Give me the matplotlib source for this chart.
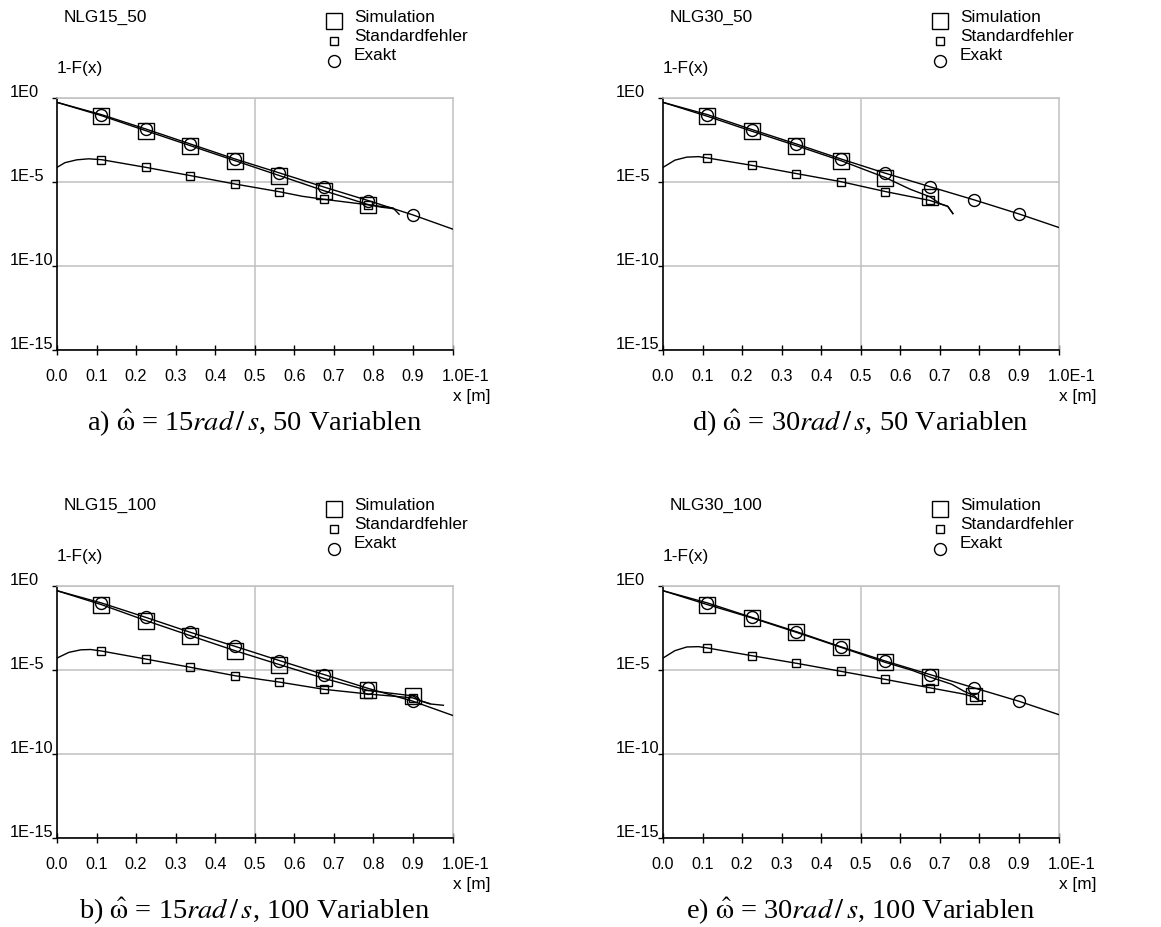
import numpy as np
import matplotlib
matplotlib.use("Agg")
import matplotlib.pyplot as plt
from matplotlib.lines import Line2D
from matplotlib.ticker import NullLocator
from matplotlib.transforms import ScaledTranslation

plt.rcParams["font.family"] = ["Liberation Sans", "DejaVu Sans"]
plt.rcParams["mathtext.fontset"] = "stix"

W, H = 1161, 928
DPI = 100

# x in units of 1E-1 m; curve values are log10(1-F(x))
MARK_X = [0.1125, 0.225, 0.3375, 0.45, 0.5625, 0.675, 0.7875, 0.9]
EXACT_X = [0.0, 0.1125, 0.225, 0.3375, 0.45, 0.5625, 0.675, 0.7875, 0.9, 1.0]

XTICKS = [0.0, 0.1, 0.2, 0.3, 0.4, 0.5, 0.6, 0.7, 0.8, 0.9, 1.0]
XTICK_LABELS = ["0.0", "0.1", "0.2", "0.3", "0.4", "0.5", "0.6", "0.7", "0.8", "0.9", "1.0E-1"]
YTICKS = [1e0, 1e-5, 1e-10, 1e-15]
YTICK_LABELS = ["1E0", "1E-5", "1E-10", "1E-15"]

LEGEND_LABELS = ["Simulation", "Standardfehler", "Exakt"]

# a) NLG15_50
A_EXACT_Y = [-0.26, -0.99, -1.85, -2.74, -3.63, -4.46, -5.30, -6.11, -6.96, -7.80]
A_SIM_X = [0.0, 0.1125, 0.225, 0.3375, 0.45, 0.5625, 0.675, 0.7875, 0.82, 0.845, 0.852, 0.865]
A_SIM_Y = [-0.26, -1.05, -1.95, -2.84, -3.73, -4.62, -5.52, -6.35, -6.50, -6.57, -6.60, -6.92]
A_STD_X = [0.0, 0.02, 0.05, 0.08, 0.1125, 0.225, 0.3375, 0.45, 0.5625, 0.62, 0.675, 0.7875, 0.83, 0.85]
A_STD_Y = [-4.13, -3.85, -3.68, -3.62, -3.67, -4.13, -4.62, -5.12, -5.58, -5.85, -6.03, -6.36, -6.48, -6.55]

# d) NLG30_50
D_EXACT_Y = [-0.26, -0.99, -1.88, -2.74, -3.63, -4.48, -5.28, -6.07, -6.90, -7.70]
D_SIM_X = [0.0, 0.1125, 0.225, 0.3375, 0.45, 0.5, 0.5625, 0.624, 0.675, 0.70, 0.72, 0.733]
D_SIM_Y = [-0.26, -1.09, -1.98, -2.84, -3.73, -4.18, -4.74, -5.42, -5.88, -6.28, -6.45, -6.88]
D_STD_X = [0.0, 0.03, 0.06, 0.09, 0.1125, 0.225, 0.3375, 0.45, 0.5625, 0.675, 0.70, 0.72, 0.733]
D_STD_Y = [-4.13, -3.70, -3.52, -3.49, -3.57, -4.01, -4.50, -4.98, -5.57, -6.10, -6.30, -6.45, -6.88]

# b) NLG15_100
B_EXACT_Y = [-0.28, -1.01, -1.87, -2.76, -3.59, -4.44, -5.27, -6.10, -6.86, -7.70]
B_SIM_X = [0.0, 0.1125, 0.225, 0.3375, 0.45, 0.5625, 0.675, 0.7875, 0.9, 0.92, 0.943, 0.977]
B_SIM_Y = [-0.28, -1.11, -2.06, -2.96, -3.85, -4.68, -5.50, -6.22, -6.54, -6.84, -7.02, -7.10]
B_STD_X = [0.0, 0.03, 0.06, 0.085, 0.1125, 0.225, 0.3375, 0.45, 0.5625, 0.675, 0.7875, 0.9, 0.92, 0.943]
B_STD_Y = [-4.29, -3.95, -3.80, -3.78, -3.87, -4.35, -4.84, -5.34, -5.72, -6.15, -6.43, -6.66, -6.84, -7.00]

# e) NLG30_100
E_EXACT_Y = [-0.28, -1.01, -1.87, -2.72, -3.62, -4.47, -5.27, -6.07, -6.86, -7.65]
E_SIM_X = [0.0, 0.1125, 0.225, 0.3375, 0.45, 0.5625, 0.63, 0.675, 0.73, 0.76, 0.7875, 0.80, 0.815]
E_SIM_Y = [-0.28, -1.11, -1.90, -2.76, -3.65, -4.55, -5.02, -5.42, -5.85, -6.25, -6.54, -6.84, -6.84]
E_STD_X = [0.0, 0.03, 0.06, 0.09, 0.1125, 0.225, 0.3375, 0.45, 0.5625, 0.675, 0.73, 0.76, 0.7875, 0.80, 0.815]
E_STD_Y = [-4.29, -3.85, -3.63, -3.61, -3.69, -4.15, -4.60, -5.08, -5.56, -6.06, -6.30, -6.43, -6.62, -6.84, -6.84]

OMEGA = r"$\hat{\mathrm{\omega}}$"
UNIT = r"$rad\,/\,s$"

PANELS = [
    # left px, top px, run name, caption, exact, sim x/y, std x/y
    (57, 99, "NLG15_50", "a) " + OMEGA + " = 15" + UNIT + ", 50 Variablen",
     A_EXACT_Y, A_SIM_X, A_SIM_Y, A_STD_X, A_STD_Y),
    (663, 99, "NLG30_50", "d) " + OMEGA + " = 30" + UNIT + ", 50 Variablen",
     D_EXACT_Y, D_SIM_X, D_SIM_Y, D_STD_X, D_STD_Y),
    (57, 587, "NLG15_100", "b) " + OMEGA + " = 15" + UNIT + ", 100 Variablen",
     B_EXACT_Y, B_SIM_X, B_SIM_Y, B_STD_X, B_STD_Y),
    (663, 587, "NLG30_100", "e) " + OMEGA + " = 30" + UNIT + ", 100 Variablen",
     E_EXACT_Y, E_SIM_X, E_SIM_Y, E_STD_X, E_STD_Y),
]

AX_W, AX_H = 395.5, 252
GRID = "#c0c0c0"
MS_SIM, MS_STD, MS_EXACT = 11.5, 5.4, 8.6

fig = plt.figure(figsize=(W / DPI, H / DPI), dpi=DPI)
fig.patch.set_facecolor("white")


def fx(px):
    return px / W


def fy(py):
    return 1 - py / H


def marker_indices(xs):
    return [i for i, v in enumerate(xs) if np.any(np.isclose(v, MARK_X))]


def draw_panel(left, top, name, caption, ex_y, sim_x, sim_y, std_x, std_y):
    ax = fig.add_axes([fx(left), fy(top + AX_H), AX_W / W, AX_H / H])
    ax.set_yscale("log")
    ax.set_xlim(0, 1)
    ax.set_ylim(1e-15, 1e0)

    series = [
        (EXACT_X, ex_y, "o", MS_EXACT),
        (sim_x, sim_y, "s", MS_SIM),
        (std_x, std_y, "s", MS_STD),
    ]
    for xs, ys, mk, ms in series:
        xs = np.asarray(xs, dtype=float)
        ys = np.power(10.0, np.asarray(ys, dtype=float))
        ax.plot(xs, ys, color="black", lw=1.0, marker=mk, ms=ms,
                mfc="none", mec="black", mew=1.0,
                markevery=marker_indices(xs), zorder=3)

    # axes frame and grid
    ax.set_axisbelow(True)
    ax.yaxis.grid(True, color=GRID, lw=1.1)
    ax.axvline(0.5, color=GRID, lw=1.1, zorder=0.5)
    for s in ("top", "right"):
        ax.spines[s].set_color(GRID)
        ax.spines[s].set_linewidth(1.1)
    for s in ("left", "bottom"):
        ax.spines[s].set_color("black")
        ax.spines[s].set_linewidth(1.2)

    ax.set_xticks(XTICKS)
    ax.set_xticklabels(XTICK_LABELS)
    ax.set_yticks(YTICKS)
    ax.set_yticklabels(YTICK_LABELS)
    ax.yaxis.set_minor_locator(NullLocator())
    ax.xaxis.set_minor_locator(NullLocator())
    ax.tick_params(axis="x", direction="inout", length=7.2, width=1.0,
                   pad=9.5, labelsize=11.6, colors="black")
    ax.tick_params(axis="y", direction="out", length=3.6, width=1.0,
                   pad=0, labelsize=11.8, colors="black")

    for lbl in ax.get_yticklabels():
        lbl.set_horizontalalignment("left")
        lbl.set_verticalalignment("baseline")
        lbl.set_transform(lbl.get_transform() +
                          ScaledTranslation(-42 / DPI, 2 / DPI, fig.dpi_scale_trans))
    last = ax.get_xticklabels()[-1]
    last.set_horizontalalignment("left")
    last.set_transform(last.get_transform() +
                       ScaledTranslation(-10.5 / DPI, 0, fig.dpi_scale_trans))

    # labels around the axes
    fig.text(fx(left + 7), fy(top - 82), name, ha="left", va="center", fontsize=12.4)
    fig.text(fx(left), fy(top - 31), "1-F(x)", ha="left", va="center", fontsize=12.4)
    fig.text(fx(left + AX_W + 38), fy(top + AX_H + 46), "x [m]",
             ha="right", va="center", fontsize=12.4)
    fig.text(fx(left + AX_W / 2), fy(top + AX_H + 72), caption,
             ha="center", va="center", fontsize=20.5, family="Liberation Serif")

    # legend
    leg_items = [
        (LEGEND_LABELS[0], "s", MS_SIM, 76.7, 82),
        (LEGEND_LABELS[1], "s", MS_STD, 57, 62.3),
        (LEGEND_LABELS[2], "o", MS_EXACT, 37.3, 44),
    ]
    for text, mk, ms, mdy, tdy in leg_items:
        fig.add_artist(Line2D([fx(left + 276.7)], [fy(top - mdy)], transform=fig.transFigure,
                              ls="none", marker=mk, ms=ms, mfc="none", mec="black", mew=1.0))
        fig.text(fx(left + 297), fy(top - tdy), text, ha="left", va="center", fontsize=12.4)
    return ax


for p in PANELS:
    draw_panel(*p)

fig.savefig("out.png", dpi=DPI, facecolor="white")
